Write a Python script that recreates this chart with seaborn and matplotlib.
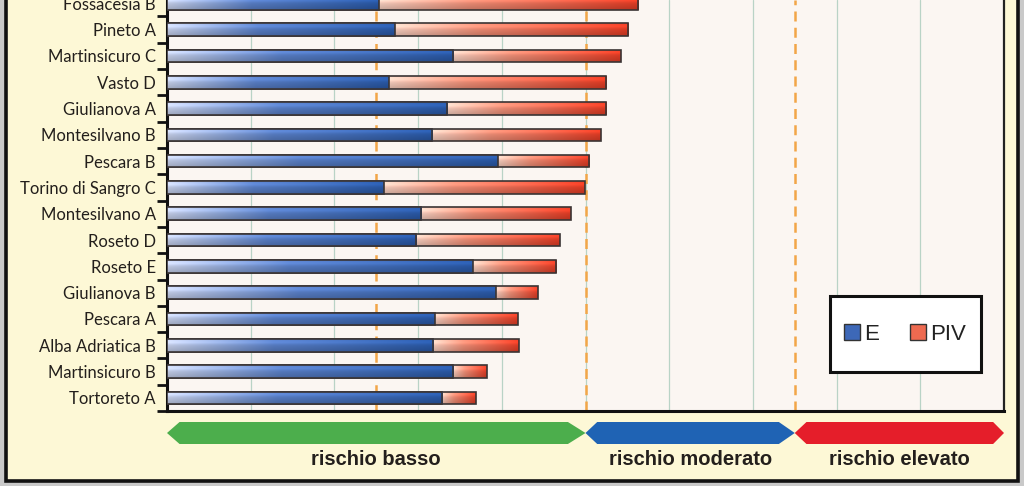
import numpy as np
import pandas as pd
import matplotlib
matplotlib.use("Agg")
import matplotlib.pyplot as plt
import seaborn as sns
from matplotlib.patches import Polygon, Rectangle, Patch
from matplotlib.colors import to_rgb
import matplotlib.transforms as mtransforms

# ---------------- data ----------------
stations = ["Fossacesia B", "Pineto A", "Martinsicuro C", "Vasto D", "Giulianova A",
            "Montesilvano B", "Pescara B", "Torino di Sangro C", "Montesilvano A",
            "Roseto D", "Roseto E", "Giulianova B", "Pescara A", "Alba Adriatica B",
            "Martinsicuro B", "Tortoreto A"]
e_values = [2.53, 2.72, 3.42, 2.65, 3.35, 3.17, 3.95, 2.59, 3.04, 2.98, 3.65, 3.93,
            3.20, 3.18, 3.42, 3.29]
piv_values = [3.10, 2.79, 2.00, 2.60, 1.90, 2.01, 1.09, 2.40, 1.79, 1.71, 1.00, 0.50,
              0.99, 1.02, 0.40, 0.40]
series_names = ["E", "PIV"]
thresholds = [2.5, 5.0, 7.5]
risk_bounds = [0.0, 5.0, 7.5, 10.0]
risk_labels = ["rischio basso", "rischio moderato", "rischio elevato"]
risk_colors = ["#4cae4c", "#1f63b4", "#e51e2a"]

df = pd.DataFrame({"station": stations, "E": e_values, "PIV": piv_values})
df["total"] = df["E"] + df["PIV"]

# ---------------- style ----------------
sns.set_theme(style="white")
plt.rcParams["font.family"] = ["Lato", "DejaVu Sans"]

W, H = 1024, 486
fig = plt.figure(figsize=(W / 100, H / 100), dpi=100)
fig.patch.set_facecolor("#c9c9c9")
panel = Rectangle((6 / W, (H - 481) / H), (1018 - 6) / W, 1.2, transform=fig.transFigure,
                  facecolor="#fdf8d6", edgecolor="#111111", linewidth=2.6, zorder=-5)
fig.add_artist(panel)

left_px, right_px, bottom_px = 167, 1004, 411
ax = fig.add_axes([left_px / W, (H - bottom_px) / H, (right_px - left_px) / W, bottom_px / H])
ax.set_facecolor("#fbf6f2")

bar_w = 0.48
edge = "#3a3434"
sns.barplot(data=df, y="station", x="total", orient="h", color="#e8442c",
            width=bar_w, edgecolor=edge, linewidth=1.2, ax=ax, zorder=3)
sns.barplot(data=df, y="station", x="E", orient="h", color="#2f5fb0",
            width=bar_w, edgecolor=edge, linewidth=1.2, ax=ax, zorder=4)

n = len(stations)


def grad_img(light, mid, dark, knee=0.4, nx=200, ny=24):
    light, mid, dark = map(np.array, map(to_rgb, (light, mid, dark)))
    t = np.linspace(0, 1, nx)[None, :, None]
    s = np.clip(t / knee, 0, 1)
    u = np.clip((t - knee) / (1 - knee), 0, 1)
    base = np.where(t < knee, light * (1 - s) + mid * s, mid * (1 - u) + dark * u)
    v = np.linspace(0, 1, ny)[:, None, None]
    shade = 1.06 - 0.26 * v + 0.10 * np.exp(-((v - 0.25) / 0.15) ** 2)
    img = base * shade
    return np.clip(img, 0, 1)


img_e = grad_img("#c9d3ee", "#5a80c8", "#2a5aa9")
img_p = grad_img("#fbd2c2", "#f29078", "#e63d25", knee=0.35)

patches = list(ax.patches)
tot_patches = patches[:n]
e_patches = patches[n:2 * n]
for i in range(n):
    pt = tot_patches[i]
    pe = e_patches[i]
    yc = pt.get_y() + pt.get_height() / 2
    y0, y1 = yc - bar_w / 2, yc + bar_w / 2
    pt.set_facecolor("none")
    im = ax.imshow(img_p, extent=[df["E"][i], df["total"][i], y1, y0], origin="upper",
                   aspect="auto", interpolation="bilinear", zorder=2.5)
    im.set_clip_path(pt)
    pe.set_facecolor("none")
    im2 = ax.imshow(img_e, extent=[0, df["E"][i], y1, y0], origin="upper",
                    aspect="auto", interpolation="bilinear", zorder=3.5)
    im2.set_clip_path(pe)

# gridlines and thresholds
for gx in range(1, 10):
    ax.axvline(gx, color="#b9d3c6", linewidth=0.9, zorder=1)
for th in thresholds:
    ax.axvline(th, color="#f2a648", linewidth=1.8, linestyle=(0, (4, 2.5)), zorder=1.5)

# ticks
ax.set_xticks([])
ax.set_xlabel("")
ax.set_ylabel("")
ax.set_yticks(range(n))
ax.set_yticklabels(stations, fontsize=12, color="#231f1c")
ax.set_yticks(np.arange(-0.5, n, 1.0), minor=True)
ax.tick_params(axis="y", which="major", length=0, pad=8)
ax.tick_params(axis="y", which="minor", length=7, width=2.0, color="#111111", direction="out", left=True)

# axes limits (after ticks, since set_yticks may expand the view)
ax.set_xlim(0, 10)
slot_px = 26.3
ax.set_ylim(n - 0.5, n - 0.5 - bottom_px / slot_px)

for side in ["left", "bottom"]:
    ax.spines[side].set_color("#111111")
    ax.spines[side].set_linewidth(2.2)
ax.spines["right"].set_color("#222222")
ax.spines["right"].set_linewidth(1.6)
ax.spines["top"].set_visible(False)

# legend
box = Rectangle(((830 - left_px) / (right_px - left_px), (bottom_px - 372) / bottom_px),
                (981 - 830) / (right_px - left_px), (372 - 296) / bottom_px,
                transform=ax.transAxes, facecolor="white", edgecolor="#111111",
                linewidth=2.2, zorder=8)
ax.add_patch(box)
handles = [Patch(facecolor="#3d68b8", edgecolor="#333333", linewidth=1.0),
           Patch(facecolor="#ee6a50", edgecolor="#333333", linewidth=1.0)]
leg = ax.legend(handles, series_names, loc="center",
                bbox_to_anchor=((905 - left_px) / (right_px - left_px), (bottom_px - 334) / bottom_px),
                ncol=2, frameon=False, handlelength=0.72, handleheight=0.72,
                handletextpad=0.2, columnspacing=1.4,
                prop={"family": "Liberation Sans", "size": 16})
leg.set_zorder(9)
for t in leg.get_texts():
    t.set_color("#222222")

# risk arrows below the axis
trans = mtransforms.blended_transform_factory(ax.transData, ax.transAxes)
ytop, ybot = -(422 - bottom_px) / bottom_px, -(444 - bottom_px) / bottom_px
ymid = (ytop + ybot) / 2
tips_l = [0.15, 0.14, 0.14]
tips_r = [0.21, 0.19, 0.13]
for k in range(3):
    a, b = risk_bounds[k], risk_bounds[k + 1]
    pts = [(a, ymid), (a + tips_l[k], ytop), (b - tips_r[k], ytop), (b, ymid),
           (b - tips_r[k], ybot), (a + tips_l[k], ybot)]
    poly = Polygon(pts, closed=True, transform=trans, facecolor=risk_colors[k],
                   edgecolor="none", clip_on=False, zorder=5)
    ax.add_patch(poly)
    ax.text((a + b) / 2, -(459 - bottom_px) / bottom_px, risk_labels[k], transform=trans,
            ha="center", va="center", fontsize=14.5, fontweight="bold",
            family="Liberation Sans", color="#231f1c")

fig.savefig("out.png", dpi=100, facecolor=fig.get_facecolor())
